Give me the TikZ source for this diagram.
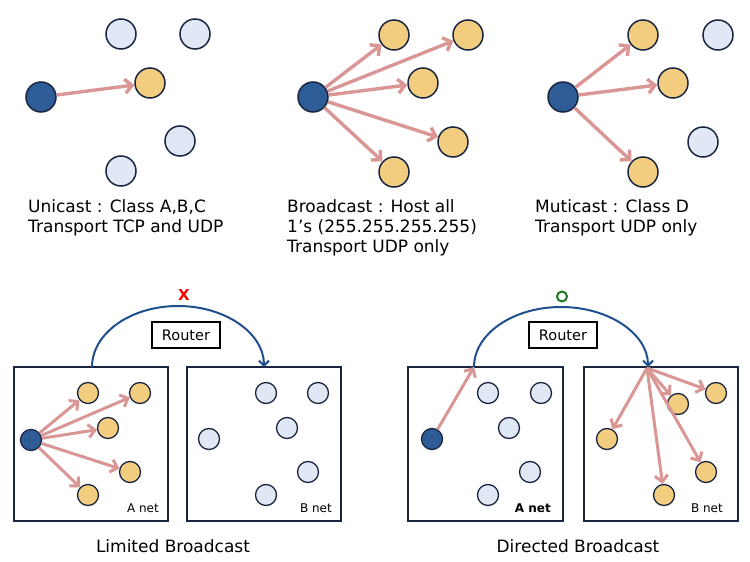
\documentclass[tikz,border=0pt]{standalone}
\usepackage{fontspec}
\setmainfont{DejaVu Sans}
\usetikzlibrary{arrows.meta}
\definecolor{arrowc}{HTML}{D99694}
\definecolor{bluec}{HTML}{2E5C96}
\definecolor{yelc}{HTML}{F2CD80}
\definecolor{lightc}{HTML}{DFE8F4}
\definecolor{outc}{HTML}{1A2540}
\definecolor{arcc}{HTML}{1F4F8F}
\definecolor{okc}{HTML}{1E7A1E}
\begin{document}
\begin{tikzpicture}[x=1pt,y=-1pt,
  bigc/.style={circle,draw=outc,line width=1.5pt,minimum size=30pt,inner sep=0pt},
  smc/.style={circle,draw=outc,line width=1.3pt,minimum size=21pt,inner sep=0pt},
  blu/.style={fill=bluec},
  yel/.style={fill=yelc},
  lgt/.style={fill=lightc},
  arr/.style={draw=arrowc,line width=3.4pt,-{Straight Barb[length=7pt,width=14pt]}},
  sarr/.style={draw=arrowc,line width=3pt,-{Straight Barb[length=6.5pt,width=13pt]}},
  netbox/.style={draw=outc,line width=1.5pt,minimum width=154pt,minimum height=154pt,inner sep=0pt},
  routerbox/.style={draw=black,line width=2.8pt,minimum width=68pt,minimum height=26pt,inner sep=0pt,font=\fontsize{14.5}{16}\selectfont},
  arcl/.style={draw=arcc,line width=2pt,-{Straight Barb[length=5pt,width=10pt]}},
  captxt/.style={font=\fontsize{17}{20}\selectfont,inner sep=0pt},
  smalltxt/.style={font=\fontsize{12}{14}\selectfont,inner sep=0pt}
]
\useasboundingbox (0,0) rectangle (750,562);

% ---------- Unicast ----------
\node[bigc,lgt] (u1) at (121,34) {};
\node[bigc,lgt] (u2) at (195,34) {};
\node[bigc,yel] (u3) at (150,83) {};
\node[bigc,blu] (u0) at (41,97) {};
\node[bigc,lgt] (u4) at (180,141) {};
\node[bigc,lgt] (u5) at (121,171) {};
\draw[arr] (u0) -- (u3);
\node[captxt,anchor=base west] (ut1) at (28,212) {Unicast : Class A,B,C};
\node[captxt,anchor=base west] (ut2) at (28,232) {Transport TCP and UDP};

% ---------- Broadcast ----------
\node[bigc,blu] (b0) at (313,97) {};
\node[bigc,yel] (b1) at (394,35) {};
\node[bigc,yel] (b2) at (468,35) {};
\node[bigc,yel] (b3) at (423,83) {};
\node[bigc,yel] (b4) at (453,142) {};
\node[bigc,yel] (b5) at (394,172) {};
\foreach \t in {b1,b2,b3,b4,b5} \draw[arr] (b0) -- (\t);
\node[captxt,anchor=base west] (bt1) at (287,212) {Broadcast : Host all};
\node[captxt,anchor=base west] (bt2) at (287,232) {1's (255.255.255.255)};
\node[captxt,anchor=base west] (bt3) at (287,252) {Transport UDP only};

% ---------- Multicast ----------
\node[bigc,blu] (m0) at (563,97) {};
\node[bigc,yel] (m1) at (643,35) {};
\node[bigc,lgt] (m2) at (718,35) {};
\node[bigc,yel] (m3) at (673,83) {};
\node[bigc,lgt] (m4) at (703,142) {};
\node[bigc,yel] (m5) at (643,172) {};
\foreach \t in {m1,m3,m5} \draw[arr] (m0) -- (\t);
\node[captxt,anchor=base west] (mt1) at (535,212) {Muticast : Class D};
\node[captxt,anchor=base west] (mt2) at (535,232) {Transport UDP only};

% ---------- Limited Broadcast ----------
\node[netbox] (la) at (91,444) {};
\node[netbox] (lb) at (264,444) {};
\coordinate (larcs) at (92,367);
\draw[arcl] (larcs) arc[start angle=180,end angle=360,x radius=86,y radius=61];
\node[routerbox] (lr) at (186,335) {Router};
\node[text=red,font=\fontsize{15}{16}\selectfont\bfseries,inner sep=0pt] (lx) at (184,295.5) {X};
\node[smc,blu] (la0) at (31,440) {};
\node[smc,yel] (la1) at (88,393) {};
\node[smc,yel] (la2) at (140,393) {};
\node[smc,yel] (la3) at (108,428) {};
\node[smc,yel] (la4) at (130,472) {};
\node[smc,yel] (la5) at (88,495) {};
\foreach \t in {la1,la2,la3,la4,la5} \draw[sarr] (la0) -- (\t);
\node[smc,lgt] (lb1) at (266,393) {};
\node[smc,lgt] (lb2) at (318,393) {};
\node[smc,lgt] (lb3) at (287,428) {};
\node[smc,lgt] (lb4) at (209,439) {};
\node[smc,lgt] (lb5) at (308,472) {};
\node[smc,lgt] (lb6) at (266,495) {};
\node[smalltxt,anchor=base east] (lat) at (159,512) {A net};
\node[smalltxt,anchor=base east] (lbt) at (332,512) {B net};
\node[captxt,anchor=base] (lcap) at (173,552) {Limited Broadcast};

% ---------- Directed Broadcast ----------
\node[netbox,minimum width=155pt] (da) at (485.5,444) {};
\node[netbox] (db) at (661,444) {};
\coordinate (darcs) at (474,367);
\draw[arcl] (darcs) arc[start angle=180,end angle=360,x radius=87,y radius=60];
\node[routerbox] (dr) at (563,335) {Router};
\node[circle,draw=okc,line width=2pt,minimum size=10pt,inner sep=0pt] (dok) at (562,296.5) {};
\node[smc,blu] (da0) at (432,439) {};
\node[smc,lgt] (da1) at (488,393) {};
\node[smc,lgt] (da2) at (541,393) {};
\node[smc,lgt] (da3) at (509,428) {};
\node[smc,lgt] (da4) at (530,472) {};
\node[smc,lgt] (da5) at (488,495) {};
\draw[sarr] (da0) -- (darcs);
\coordinate (dbs) at (647,368);
\node[smc,yel] (db1) at (716,393) {};
\node[smc,yel] (db2) at (678,404) {};
\node[smc,yel] (db3) at (607,439) {};
\node[smc,yel] (db4) at (706,472) {};
\node[smc,yel] (db5) at (664,495) {};
\foreach \t in {db1,db2,db3,db4,db5} \draw[sarr] (dbs) -- (\t);
\node[smalltxt,anchor=base east,font=\fontsize{12}{14}\selectfont\bfseries] (dat) at (551,512) {A net};
\node[smalltxt,anchor=base east] (dbt) at (723,512) {B net};
\node[captxt,anchor=base] (dcap) at (578,552) {Directed Broadcast};
\end{tikzpicture}
\end{document}
